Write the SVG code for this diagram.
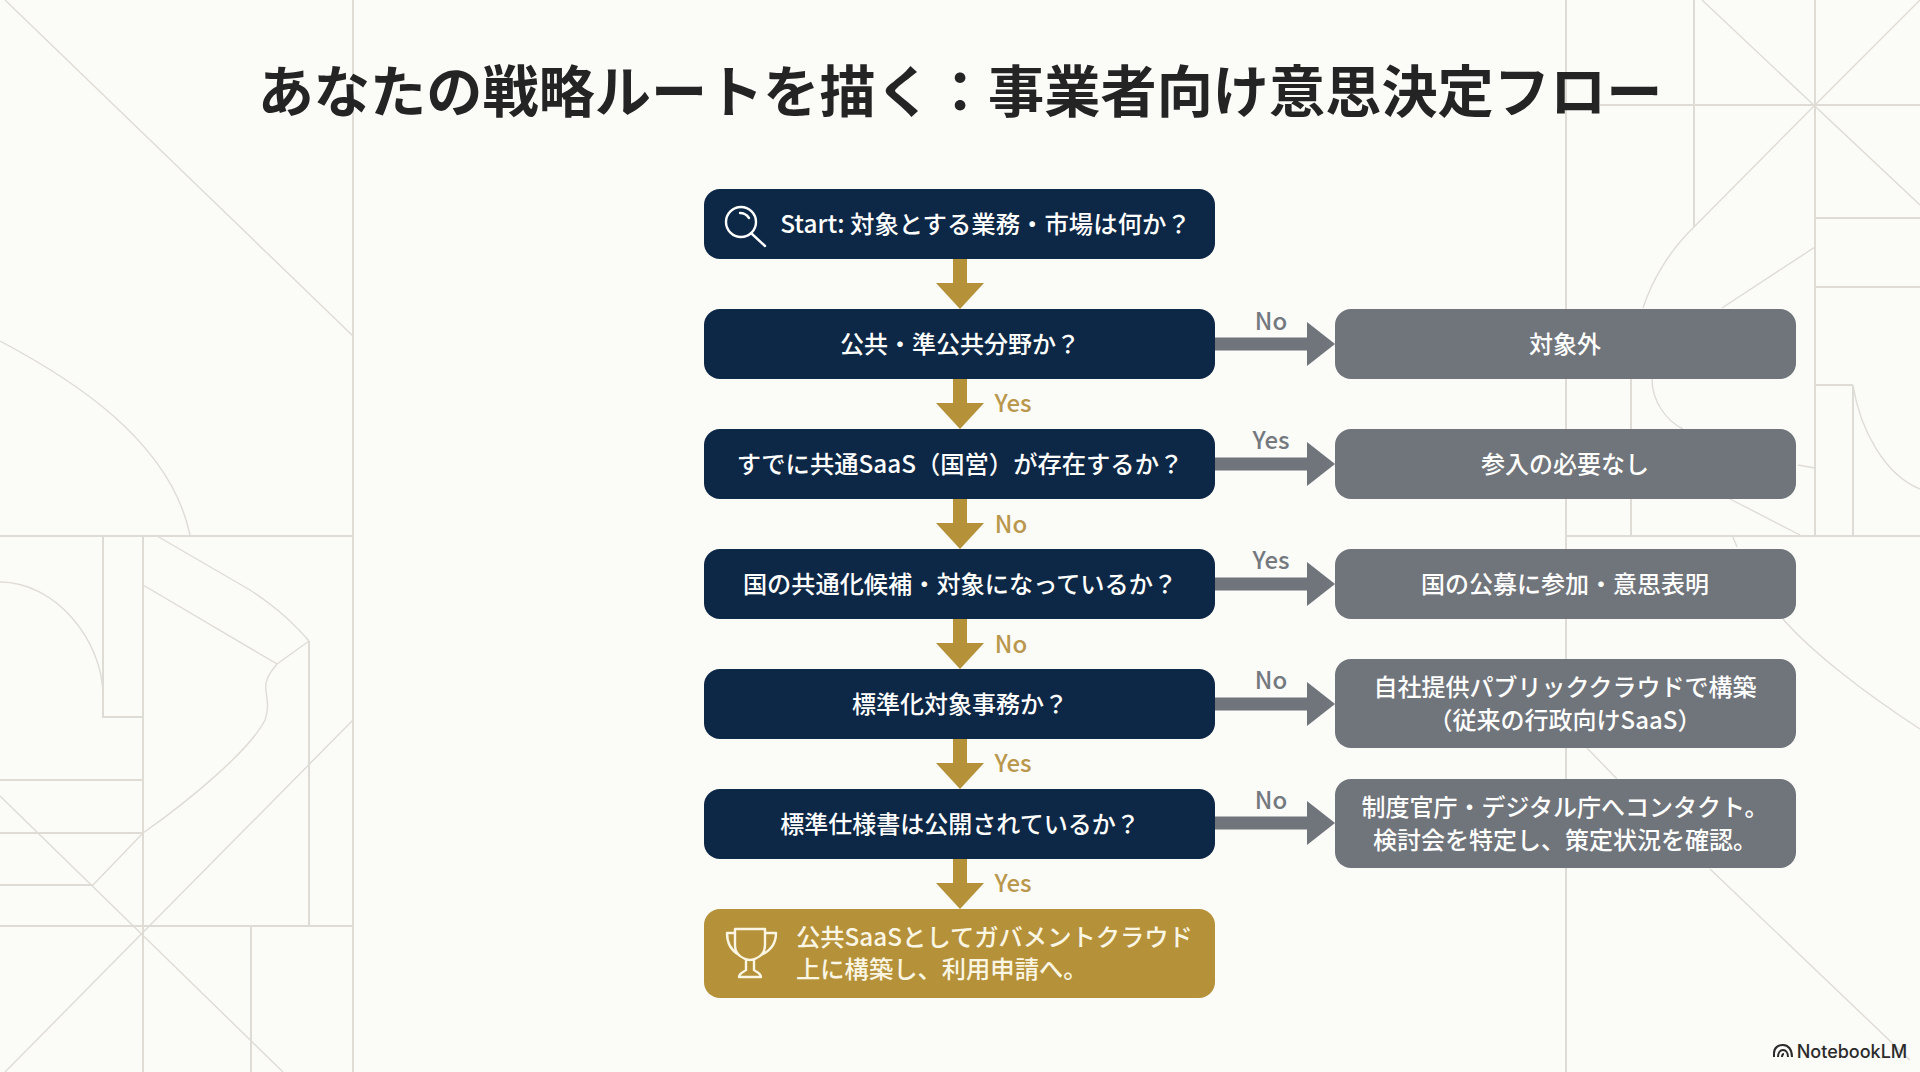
<svg xmlns="http://www.w3.org/2000/svg" width="1920" height="1072" viewBox="0 0 1920 1072">
<style>
text{font-family:"Noto Sans CJK JP","Noto Sans",sans-serif;text-anchor:middle}
.bg{fill:none;stroke:#dfdcd5;stroke-width:1.4}
.bt{stroke-width:2}
.title{font-size:56.2px;font-weight:700;fill:#242424}
.t{font-size:24px;font-weight:500;fill:#fff}
.navy{fill:#0d2746}
.gray{fill:#70747b}
.gold{fill:#b5913a}
.lg{font-size:24px;font-weight:500;fill:#b9974c}
.lr{font-size:24px;font-weight:500;fill:#74787f}
.ic{fill:none;stroke:#fff;stroke-width:2.4;stroke-linecap:round;stroke-linejoin:round}
.c1{stroke:#b5913a;stroke-width:14}
.c2{stroke:#70747b;stroke-width:13}
</style>
<defs>
<marker id="hg" markerUnits="userSpaceOnUse" markerWidth="26" markerHeight="48" refX="0" refY="24" orient="auto"><polygon points="0,0 26,24 0,48" fill="#b5913a"/></marker>
<marker id="hr" markerUnits="userSpaceOnUse" markerWidth="28" markerHeight="44" refX="0" refY="22" orient="auto"><polygon points="0,0 28,22 0,44" fill="#70747b"/></marker>
</defs>
<rect width="1920" height="1072" fill="#fbfbf8"/>
<g id="background">
<path class="bg bt" d="M353 0V1072M0 536H353M143 536V1072M103 536V717H143M0 780H143M0 833H143M0 885H93M0 926H353M251 926V1072M309 641V926"/>
<path class="bg" d="M5 0L353 336M0 341C70 378 170 440 190 535M0 582C55 582 103 640 103 696M0 796L283 1072M5 1072L353 720M93 885L143 833C190 800 250 750 265 720C272 700 262 690 267 680C268 675 272 670 277 664L143 585M157 536L250 590C280 610 295 625 309 641M277 664L309 641"/>
<path class="bg bt" d="M1566 0V1072M1566 536H1920M1694 0V227M1815 0V535M1600 105H1920M1815 218H1920M1815 287H1920M1631 379V535M1853 385V535M1815 385H1853"/>
<path class="bg" d="M1702 0L1920 205M1920 0L1815 105L1694 227C1670 250 1652 280 1643 308M1815 247L1722 308M1652 379C1652 400 1665 420 1683 429M1798 465L1815 468M1730 499L1800 535M1853 385C1860 430 1885 475 1920 489M1732 535L1737 547M1783 619C1810 650 1860 690 1920 729M1587 748L1617 779M1710 869L1910 1060"/>
</g>
<text class="title" x="960" y="112">あなたの戦略ルートを描く：事業者向け意思決定フロー</text>
<g id="connectors">
<line class="c1" x1="960" y1="259" x2="960" y2="283" marker-end="url(#hg)"/>
<line class="c1" x1="960" y1="379" x2="960" y2="403" marker-end="url(#hg)"/>
<line class="c1" x1="960" y1="499" x2="960" y2="523" marker-end="url(#hg)"/>
<line class="c1" x1="960" y1="619" x2="960" y2="643" marker-end="url(#hg)"/>
<line class="c1" x1="960" y1="739" x2="960" y2="763" marker-end="url(#hg)"/>
<line class="c1" x1="960" y1="859" x2="960" y2="883" marker-end="url(#hg)"/>
<line class="c2" x1="1215" y1="344" x2="1307" y2="344" marker-end="url(#hr)"/>
<line class="c2" x1="1215" y1="464" x2="1307" y2="464" marker-end="url(#hr)"/>
<line class="c2" x1="1215" y1="584" x2="1307" y2="584" marker-end="url(#hr)"/>
<line class="c2" x1="1215" y1="704" x2="1307" y2="704" marker-end="url(#hr)"/>
<line class="c2" x1="1215" y1="823" x2="1307" y2="823" marker-end="url(#hr)"/>
<text class="lg" x="1013" y="412">Yes</text>
<text class="lg" x="1011" y="533">No</text>
<text class="lg" x="1011" y="653">No</text>
<text class="lg" x="1013" y="772">Yes</text>
<text class="lg" x="1013" y="892">Yes</text>
<text class="lr" x="1271" y="330">No</text>
<text class="lr" x="1271" y="449">Yes</text>
<text class="lr" x="1271" y="569">Yes</text>
<text class="lr" x="1271" y="689">No</text>
<text class="lr" x="1271" y="809">No</text>
</g>
<g id="n-start"><rect class="navy" x="704" y="189" width="511" height="70" rx="16"/>
<circle class="ic" cx="741" cy="222" r="15"/><path class="ic" d="M751 233L765 246M740 213C744 213 747 215 749 218"/>
<text class="t" x="985.500" y="233" style="font-size:24.400px">Start: 対象とする業務・市場は何か？</text></g>
<g id="n-q1"><rect class="navy" x="704" y="309" width="511" height="70" rx="16"/><text class="t" x="960" y="353">公共・準公共分野か？</text></g>
<g id="n-q2"><rect class="navy" x="704" y="429" width="511" height="70" rx="16"/><text class="t" x="960" y="473" style="font-size:24.300px">すでに共通SaaS（国営）が存在するか？</text></g>
<g id="n-q3"><rect class="navy" x="704" y="549" width="511" height="70" rx="16"/><text class="t" x="960" y="593" style="font-size:24.200px">国の共通化候補・対象になっているか？</text></g>
<g id="n-q4"><rect class="navy" x="704" y="669" width="511" height="70" rx="16"/><text class="t" x="960" y="713">標準化対象事務か？</text></g>
<g id="n-q5"><rect class="navy" x="704" y="789" width="511" height="70" rx="16"/><text class="t" x="960" y="833">標準仕様書は公開されているか？</text></g>
<g id="n-goal"><rect class="gold" x="704" y="909" width="511" height="89" rx="16"/>
<path class="ic" style="stroke:#fbf6e3" d="M735 929H765V945C765 955 757 959 750 960C743 959 735 955 735 945ZM735 933H727C727 945 732 951 739 955M765 933H776C776 945 770 951 761 955M746 960V970M754 960V970M746 970C744 972 739 973 739 977H761C761 973 756 972 754 970"/>
<text class="t" x="796" y="946" style="fill:#fbf6e3;text-anchor:start;font-size:24.300px">公共SaaSとしてガバメントクラウド</text>
<text class="t" x="796" y="978" style="fill:#fbf6e3;text-anchor:start;font-size:24.300px">上に構築し、利用申請へ。</text></g>
<g id="n-r1"><rect class="gray" x="1335" y="309" width="461" height="70" rx="16"/><text class="t" x="1565" y="353">対象外</text></g>
<g id="n-r2"><rect class="gray" x="1335" y="429" width="461" height="70" rx="16"/><text class="t" x="1565" y="473">参入の必要なし</text></g>
<g id="n-r3"><rect class="gray" x="1335" y="549" width="461" height="70" rx="16"/><text class="t" x="1565" y="593">国の公募に参加・意思表明</text></g>
<g id="n-r4"><rect class="gray" x="1335" y="659" width="461" height="89" rx="16"/><text class="t" x="1565" y="696">自社提供パブリッククラウドで構築</text><text class="t" x="1565" y="729">（従来の行政向けSaaS）</text></g>
<g id="n-r5"><rect class="gray" x="1335" y="779" width="461" height="89" rx="16"/><text class="t" x="1565" y="816">制度官庁・デジタル庁へコンタクト。</text><text class="t" x="1565" y="849">検討会を特定し、策定状況を確認。</text></g>
<g id="brand">
<path fill="none" stroke="#2b2b2b" stroke-width="2" d="M1774 1057V1053C1774 1048 1778 1045 1783 1045C1788 1045 1792 1049 1792 1057M1778 1057C1778 1053 1780 1050 1783 1050C1786 1050 1788 1053 1788 1057M1782 1057C1782 1055 1783 1054 1784 1054"/>
<text x="1852" y="1058" style="font-family:Inter,sans-serif;font-size:18px;font-weight:500;fill:#2b2b2b">NotebookLM</text>
</g>
</svg>
